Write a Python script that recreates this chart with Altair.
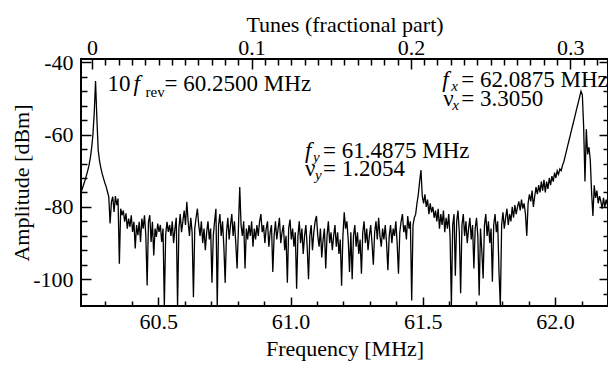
import altair as alt
import pandas as pd

# ---------------- data ----------------
# Spectrum analyzer trace, one amplitude reading (dBm) every FREQ_STEP MHz from FREQ_START
FREQ_START = 60.208
FREQ_STEP = 0.005
AMPLITUDE_DBM = [
    # 60.208 ... (10 f_rev line)
    -76.0, -74.9, -73.8, -72.7, -71.4, -70.1, -68.6, -66.6, -63.8, -60.1,
    -54.1, -45.2, -55.5, -64.3, -67.3, -69.2, -70.8, -72.1, -73.3, -74.4,
    -75.8, -77.2, -84.6, -78.6, -77.2, -81.4, -77.0, -79.5, -77.7, -95.7,
    -80.5, -82.3, -81.0, -84.1, -81.8, -86.0, -83.2, -85.5, -82.3, -86.9,
    -84.1, -91.5, -85.0, -87.8, -84.1, -89.7, -83.2, -86.0, -82.3, -87.8,
    -101.7, -84.1, -82.3, -89.7, -84.1, -93.4, -86.0, -88.3, -84.6, -86.9,
    -85.0, -89.7, -86.0, -107.4, -87.8, -84.1, -86.9, -85.0, -88.0, -84.0,
    -90.0, -86.0, -83.0, -107.4, -86.0, -82.0, -87.0, -84.0, -81.0, -85.0,
    -78.6, -84.0, -88.0, -83.0, -87.0, -105.0, -86.0, -83.0, -80.5, -85.0,
    -88.0, -84.0, -90.0, -86.0, -92.0, -87.0, -84.0, -89.0, -86.0, -101.0,
    -88.0, -84.0, -80.5, -107.4, -85.0, -82.0, -88.0, -84.0, -91.0, -101.0,
    -87.0, -83.0, -89.0, -85.0, -82.0, -88.0, -84.0, -90.0, -97.0, -86.0,
    -74.5, -85.0, -88.0, -84.0, -97.0, -86.0, -89.0, -85.0, -88.0, -84.0,
    -91.0, -86.0, -89.0, -85.0, -88.0, -84.0, -82.0, -87.0, -85.0, -90.0,
    -86.0, -84.0, -91.0, -87.0, -85.0, -98.0, -88.0, -84.0, -89.0, -86.0,
    -83.0, -90.0, -87.0, -85.0, -92.0, -88.0, -101.0, -86.0, -83.5, -89.0,
    -86.0, -91.0, -87.0, -102.6, -88.0, -84.0, -90.0, -86.0, -93.0, -88.0,
    -85.0, -91.0, -100.0, -88.0, -85.0, -92.0, -87.0, -84.0, -82.5, -88.0,
    -91.0, -86.0, -94.0, -89.0, -86.0, -97.0, -88.0, -84.0, -90.0, -87.0,
    -92.0, -88.0, -85.0, -91.0, -87.0, -93.0, -89.0, -101.8, -88.0, -81.5,
    -86.0, -84.0, -89.0, -98.0, -87.0, -100.0, -88.0, -85.0, -91.0, -87.0,
    -93.0, -89.0, -98.5, -87.0, -84.0, -90.0, -86.0, -92.0, -88.0, -85.0,
    -90.0, -96.0, -87.0, -84.0, -89.0, -83.0, -88.0, -91.0, -86.0, -89.0,
    -85.0, -90.0, -97.5, -88.0, -85.0, -90.0, -86.0, -88.0, -84.0, -90.0,
    -98.5, -87.0, -84.0, -82.0, -87.0, -85.0, -89.0, -82.5, -86.0, -84.0,
    # f_y line
    -105.9, -85.0, -83.0, -82.0, -79.0, -76.5, -73.0, -69.8, -77.0, -79.0,
    -76.5, -80.0, -78.0, -82.0, -79.0, -81.5, -80.0, -83.0, -81.0, -84.0,
    -80.5, -86.0, -82.0, -85.0, -81.0, -87.0, -83.0, -86.0, -82.0, -88.0,
    -107.4, -85.0, -82.0, -99.0, -84.0, -81.0, -87.0, -103.9, -85.0, -82.0,
    -88.0, -84.0, -90.0, -86.0, -83.0, -89.0, -85.0, -97.0, -86.0, -83.0,
    -88.0, -104.5, -86.0, -92.0, -99.8, -85.0, -82.0, -88.0, -84.0, -90.0,
    -86.0, -100.7, -85.0, -82.0, -87.0, -84.0, -98.0, -107.4, -85.0, -81.5,
    -86.0, -83.0, -80.5, -85.0, -82.0, -84.0, -80.0, -83.0, -79.5, -82.0,
    -80.0, -78.5, -81.0, -78.0, -80.5, -79.0, -82.0, -88.0, -79.0, -76.5,
    -78.5, -75.5, -80.0, -77.0, -74.5, -76.5, -74.0, -76.0, -73.0, -75.5,
    -72.5, -76.0, -73.0, -75.0, -72.0, -74.0, -71.5, -73.0, -70.5, -72.0,
    -70.0, -71.0, -69.5, -70.0, -68.5, -67.5, -66.0, -64.5, -63.0, -61.5,
    -60.0, -58.5, -57.0, -55.5, -54.0, -52.5, -51.0, -49.5, -48.0, -49.0,
    # f_x line
    -58.0, -73.0, -58.5, -65.5, -63.5, -67.0, -76.0, -82.5, -74.0, -77.5,
    -75.5, -79.0, -77.0, -78.5, -80.5, -77.5, -80.0, -78.0, -79.5, -77.5,
]

X_DOMAIN = [60.208, 62.2]            # MHz
Y_DOMAIN = [-107.4, -39.1]           # dBm
F_REV10 = 60.25                      # MHz, tune origin
F_REV = 6.025                        # MHz per unit tune
X_LABELS = [60.5, 61.0, 61.5, 62.0]
X_TICKS = [60.3, 60.4, 60.5, 60.6, 60.7, 60.8, 60.9, 61.0, 61.1, 61.2,
           61.3, 61.4, 61.5, 61.6, 61.7, 61.8, 61.9, 62.0, 62.1]
Y_LABELS = [-40, -60, -80, -100]
Y_TICKS = [-40, -44, -48, -52, -56, -60, -64, -68, -72, -76, -80, -84,
           -88, -92, -96, -100, -104]
TUNE_LABELS = [0, 0.1, 0.2, 0.3]
TUNE_MINOR_PER_TENTH = 12

FREV_TEXT = ["10", "f", "rev", "= 60.2500 MHz"]
FY_TEXT = [["f", "y", "= 61.4875 MHz"], ["\u03bd", "y", "= 1.2054"]]
FX_TEXT = [["f", "x", "= 62.0875 MHz"], ["\u03bd", "x", "= 3.3050"]]

# ---------------- layout ----------------
W, H = 527, 247
FONT = "Liberation Serif"
FS = 22
FS_ANN = 23
FS_SUB = 15
PX_PER_MHZ = W / (X_DOMAIN[1] - X_DOMAIN[0])
PX_PER_DB = H / (Y_DOMAIN[1] - Y_DOMAIN[0])

freq = [FREQ_START + FREQ_STEP * i for i in range(len(AMPLITUDE_DBM))]
df = pd.DataFrame({"freq": freq, "amp": AMPLITUDE_DBM})
df["tune"] = (df["freq"] - F_REV10) / F_REV

tune_domain = [(X_DOMAIN[0] - F_REV10) / F_REV, (X_DOMAIN[1] - F_REV10) / F_REV]
tune_ticks = [k * 0.1 / TUNE_MINOR_PER_TENTH for k in range(0, 60)
              if k * 0.1 / TUNE_MINOR_PER_TENTH <= tune_domain[1]]

xs = alt.Scale(domain=X_DOMAIN, nice=False, zero=False)
ts = alt.Scale(domain=tune_domain, nice=False, zero=False)
ys = alt.Scale(domain=Y_DOMAIN, nice=False, zero=False)


def cond_size(test, major, minor):
    return {"condition": {"test": test, "value": major}, "value": minor}


TEST_X = "abs(datum.value*2 - round(datum.value*2)) < 1e-6"
TEST_Y = "abs(datum.value % 20) < 1e-6"
TEST_T = "abs(datum.value*10 - round(datum.value*10)) < 1e-6"

tick_common = dict(labels=False, domain=False, ticks=True, tickWidth=1.5,
                   tickColor="black", title=None, grid=False)

line = alt.Chart(df).mark_line(color="black", strokeWidth=1.3, clip=True).encode(
    x=alt.X("freq:Q", scale=xs, axis=alt.Axis(
        orient="bottom", values=X_LABELS, labelExpr="format(datum.value, '.1f')",
        ticks=False, tickSize=0, domain=False, labelPadding=5,
        title="Frequency [MHz]", titlePadding=6)),
    y=alt.Y("amp:Q", scale=ys, axis=alt.Axis(
        orient="left", values=Y_LABELS, labelExpr="'' + datum.value",
        ticks=False, tickSize=0, domain=False, labelPadding=8,
        title="Amplitude [dBm]", titlePadding=-1)),
)

freq_ticks = alt.Chart(df).mark_point(opacity=0).encode(
    x=alt.X("freq:Q", scale=xs, axis=alt.Axis(
        orient="top", offset=-H, values=X_TICKS,
        tickSize=cond_size(TEST_X, 9, 5), **tick_common)),
    y=alt.Y("amp:Q", scale=ys, axis=alt.Axis(
        orient="right", offset=-W, values=Y_TICKS,
        tickSize=cond_size(TEST_Y, 10, 6), **tick_common)),
)

tune_ticks_layer = alt.Chart(df).mark_point(opacity=0).encode(
    x=alt.X("tune:Q", scale=ts, axis=alt.Axis(
        orient="bottom", offset=-H, values=tune_ticks,
        tickSize=cond_size(TEST_T, 10, 6), **tick_common)),
    y=alt.Y("amp:Q", scale=ys, axis=alt.Axis(
        orient="left", offset=-W, values=Y_TICKS,
        tickSize=cond_size(TEST_Y, 9, 5), **tick_common)),
)

tune_labels = alt.Chart(df).mark_point(opacity=0).encode(
    x=alt.X("tune:Q", scale=ts, axis=alt.Axis(
        orient="top", values=TUNE_LABELS,
        labelExpr="datum.value == 0 ? '0' : format(datum.value, '.1f')",
        ticks=False, tickSize=0, domain=False, labelBaseline="alphabetic",
        labelPadding=5, title="Tunes (fractional part)", titlePadding=0)),
    y=alt.Y("amp:Q", scale=ys, axis=None),
)

# ---- annotation pieces (anchor in data units, offsets in px) ----
pieces = {"normal": [], "italic": [], "sub": [], "subit": []}


def add(group, text, f0, a0, dx=0, dy=0):
    pieces[group].append({"x": f0 + dx / PX_PER_MHZ, "y": a0 - dy / PX_PER_DB, "text": text})


# 10 f_rev = 60.2500 MHz
fa, aa = 60.3086, -46.0
add("normal", FREV_TEXT[0], fa, aa, 0)
add("italic", FREV_TEXT[1], fa, aa, 26)
add("sub", FREV_TEXT[2], fa, aa, 38, 8)
add("normal", FREV_TEXT[3], fa, aa, 57)

# f_y, nu_y
fb, ab1, ab2 = 61.0549, -64.6, -69.5
add("italic", FY_TEXT[0][0], fb, ab1, 0)
add("subit", FY_TEXT[0][1], fb, ab1, 8, 6)
add("normal", FY_TEXT[0][2], fb, ab1, 18)
add("normal", FY_TEXT[1][0], fb, ab2, 0)
add("subit", FY_TEXT[1][1], fb, ab2, 10, 6)
add("normal", FY_TEXT[1][2], fb, ab2, 18)

# f_x, nu_x
fc, ac1, ac2 = 61.5735, -44.95, -50.1
add("italic", FX_TEXT[0][0], fc, ac1, 0)
add("subit", FX_TEXT[0][1], fc, ac1, 9, 6)
add("normal", FX_TEXT[0][2], fc, ac1, 19)
add("normal", FX_TEXT[1][0], fc, ac2, 1)
add("subit", FX_TEXT[1][1], fc, ac2, 10, 6)
add("normal", FX_TEXT[1][2], fc, ac2, 19)

styles = {
    "normal": dict(fontSize=FS_ANN, fontStyle="normal"),
    "italic": dict(fontSize=FS_ANN, fontStyle="italic"),
    "sub": dict(fontSize=FS_SUB, fontStyle="normal"),
    "subit": dict(fontSize=FS_SUB, fontStyle="italic"),
}

text_layers = []
for g, rows in pieces.items():
    text_layers.append(
        alt.Chart(pd.DataFrame(rows)).mark_text(
            align="left", baseline="middle", font=FONT, color="black", **styles[g]
        ).encode(
            x=alt.X("x:Q", scale=xs, axis=None),
            y=alt.Y("y:Q", scale=ys, axis=None),
            text="text:N",
        )
    )

chart = alt.layer(line, freq_ticks, tune_ticks_layer, tune_labels, *text_layers).resolve_scale(
    x="independent"
).resolve_axis(
    x="independent", y="independent"
).properties(
    width=W, height=H,
    autosize=alt.AutoSizeParams(type="none"),
    padding={"left": 73, "top": 51, "right": 0, "bottom": 58},
).configure_axis(
    labelFont=FONT, titleFont=FONT, labelFontSize=FS, titleFontSize=FS,
    titleFontWeight="normal", labelColor="black", titleColor="black",
    grid=False, labelFlush=False, labelOverlap=False,
).configure_view(stroke="black", strokeWidth=2)

chart.save("out.html", embed_options={"renderer": "svg", "actions": False})
